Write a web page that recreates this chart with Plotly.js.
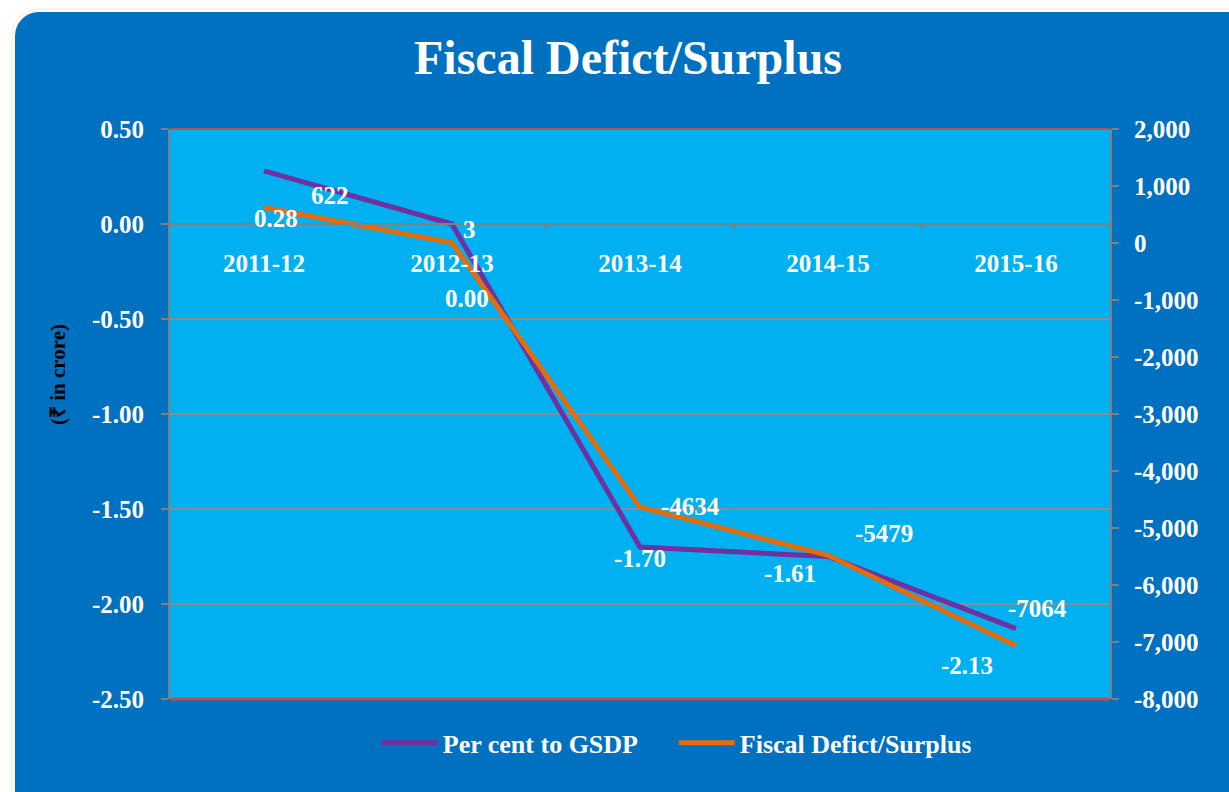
<!DOCTYPE html>
<html>
<head>
<meta charset="utf-8">
<script src="https://cdn.plot.ly/plotly-3.0.1.min.js"></script>
<style>
  html, body { margin:0; padding:0; width:1229px; height:792px; overflow:hidden; background:#ffffff; }
  #frame { position:absolute; left:15px; top:12px; width:1260px; height:820px; border-radius:24px;
           background:#0070C0; box-shadow:0 0 0 2px #fbfbfb, 0 0 0 4px #fdf3e6; }
  #chart { position:absolute; left:0; top:0; width:1229px; height:792px; }
</style>
</head>
<body>
<div id="frame"></div>
<div id="chart"></div>
<script>
const years = ['2011-12', '2012-13', '2013-14', '2014-15', '2015-16'];
const perCentGSDP = [0.28, 0.00, -1.70, -1.75, -2.13];
const perCentLabels = ['0.28', '0.00', '-1.70', '-1.61', '-2.13'];
const fiscalDeficit = [622, 3, -4634, -5479, -7064];
const fiscalLabels = ['622', '3', '-4634', '-5479', '-7064'];
const leftTicks = [0.5, 0, -0.5, -1, -1.5, -2, -2.5];
const leftTickText = ['0.50', '0.00', '-0.50', '-1.00', '-1.50', '-2.00', '-2.50'];
const rightTicks = [2000, 1000, 0, -1000, -2000, -3000, -4000, -5000, -6000, -7000, -8000];
const rightTickText = ['2,000', '1,000', '0', '-1,000', '-2,000', '-3,000', '-4,000', '-5,000', '-6,000', '-7,000', '-8,000'];

// label offsets (pixels) relative to each point
const perCentShift = [[12, -48], [15, -74], [0, -11], [-38, -17], [-49, -37]];
const fiscalShift = [[66, 12], [17, 13], [50, 1], [56, 22], [21, 37]];

const serif = 'Liberation Serif, Times New Roman, serif';
const white = '#ffffff';
const fs = 25;

const traces = [
  { x: years, y: perCentGSDP, type: 'scatter', mode: 'lines', name: 'Per cent to GSDP',
    line: { color: '#7030A0', width: 5 }, yaxis: 'y', xaxis: 'x' },
  { x: years, y: fiscalDeficit, type: 'scatter', mode: 'lines', name: 'Fiscal Defict/Surplus',
    line: { color: '#E46C0A', width: 5 }, yaxis: 'y2', xaxis: 'x' }
];

const annotations = [];
years.forEach((yr, i) => {
  annotations.push({ x: yr, y: perCentGSDP[i], xref: 'x', yref: 'y', text: perCentLabels[i],
    showarrow: false, xshift: perCentShift[i][0], yshift: perCentShift[i][1],
    font: { family: serif, size: fs, color: white, weight: 'bold' } });
  annotations.push({ x: yr, y: fiscalDeficit[i], xref: 'x', yref: 'y2', text: fiscalLabels[i],
    showarrow: false, xshift: fiscalShift[i][0], yshift: fiscalShift[i][1],
    font: { family: serif, size: fs, color: white, weight: 'bold' } });
});
annotations.push({ x: (58 - 170) / 940, y: (699 - 375) / 570, xref: 'paper', yref: 'paper',
  xanchor: 'center', yanchor: 'middle', text: '(₹ in crore)',
  textangle: -90, showarrow: false, font: { family: serif, size: 21, color: '#000000', weight: 'bold' } });

const layout = {
  width: 1229, height: 792,
  paper_bgcolor: 'rgba(0,0,0,0)',
  plot_bgcolor: '#00B0F0',
  margin: { l: 170, r: 119, t: 129, b: 93 },
  title: { text: 'Fiscal Defict/Surplus', x: 0.511, xanchor: 'center', y: 0.928, yanchor: 'middle',
    font: { family: serif, size: 48, color: white, weight: 'bold' } },
  showlegend: true,
  legend: { orientation: 'h', x: 0.220, xanchor: 'left', y: -0.077, yanchor: 'middle',
    bgcolor: 'rgba(0,0,0,0)', font: { family: serif, size: 26, color: white, weight: 'bold' },
    itemwidth: 56, entrywidth: 226, entrywidthmode: 'pixels' },
  xaxis: {
    type: 'category', range: [-0.5, 4.5], anchor: 'free', position: 2.5 / 3,
    showline: true, linecolor: '#808080', linewidth: 2,
    ticks: 'outside', tickson: 'boundaries', ticklen: 5, tickcolor: '#808080', tickwidth: 2,
    ticklabelstandoff: 17, showgrid: false, zeroline: false,
    tickfont: { family: serif, size: fs, color: white, weight: 'bold' }
  },
  yaxis: {
    range: [-2.5, 0.5], tickvals: leftTicks, ticktext: leftTickText,
    showline: true, linecolor: '#808080', linewidth: 2,
    ticks: 'outside', ticklen: 7, tickcolor: '#808080', tickwidth: 2, ticklabelstandoff: 12,
    showgrid: true, gridcolor: '#8c8c8c', gridwidth: 2, zeroline: false,
    tickfont: { family: serif, size: fs, color: white, weight: 'bold' }
  },
  yaxis2: {
    range: [-8000, 2000], tickvals: rightTicks, ticktext: rightTickText,
    overlaying: 'y', side: 'right', anchor: 'x',
    showline: true, linecolor: '#808080', linewidth: 2,
    ticks: 'outside', ticklen: 7, tickcolor: '#808080', tickwidth: 2, ticklabelstandoff: 10,
    showgrid: false, zeroline: false,
    tickfont: { family: serif, size: fs, color: white, weight: 'bold' }
  },
  shapes: [
    { type: 'line', xref: 'paper', yref: 'paper', x0: 0, x1: 1, y0: 1, y1: 1, line: { color: '#C0504D', width: 2 } },
    { type: 'line', xref: 'paper', yref: 'paper', x0: 0, x1: 1, y0: 0, y1: 0, line: { color: '#C0504D', width: 3 } }
  ],
  annotations: annotations
};

Plotly.newPlot('chart', traces, layout, { displayModeBar: false, staticPlot: true });
</script>
</body>
</html>
